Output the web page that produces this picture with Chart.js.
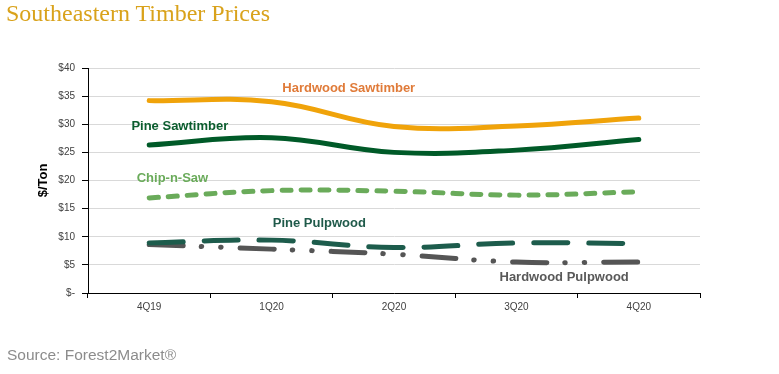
<!DOCTYPE html>
<html>
<head>
<meta charset="utf-8">
<script src="https://cdn.jsdelivr.net/npm/chart.js@4.4.0/dist/chart.umd.min.js"></script>
<style>
  body { margin: 0; background: #fff; }
  #wrap { position: relative; width: 779px; height: 374px; }
  #title { position: absolute; left: 6px; top: 0px; font-family: "Liberation Serif", serif; font-size: 24px; color: #D9A21B; }
  #source { position: absolute; left: 7px; top: 346px; font-family: "Liberation Sans", Arial, sans-serif; font-size: 15.5px; color: #8c8c8c; }
  canvas { position: absolute; left: 0; top: 0; }
</style>
</head>
<body>
<div id="wrap">
  <canvas id="chart" width="779" height="374"></canvas>
  <div id="title">Southeastern Timber Prices</div>
  <div id="source">Source: Forest2Market®</div>
</div>
<script>
// quarters on the x axis
const quarters = ['4Q19', '1Q20', '2Q20', '3Q20', '4Q20'];

// $/ton
const hardwoodSawtimber = [34.2, 34.0, 29.6, 29.7, 31.1];
const pineSawtimber = [26.3, 27.6, 25.0, 25.4, 27.3];
const chipNSaw = [16.9, 18.2, 18.1, 17.4, 18.0];
const pinePulpwood = [8.9, 9.4, 8.1, 8.9, 8.8];
const hardwoodPulpwood = [8.6, 7.8, 6.9, 5.5, 5.5];

// in-chart series labels: [text, x (category index), y ($), colour]
const seriesLabels = [
  ['Hardwood Sawtimber', 1.63, 36.4, '#E07B39'],
  ['Pine Sawtimber', 0.25, 29.7, '#0B5D2E'],
  ['Chip-n-Saw', 0.19, 20.3, '#6AAB5A'],
  ['Pine Pulpwood', 1.39, 12.3, '#1F5A4A'],
  ['Hardwood Pulpwood', 3.39, 2.8, '#595959']
];

const labelPlugin = {
  id: 'seriesLabels',
  afterDatasetsDraw(chart) {
    const ctx = chart.ctx;
    const xs = chart.scales.x, ys = chart.scales.y;
    ctx.save();
    ctx.font = 'bold 13px "Liberation Sans", Arial, sans-serif';
    ctx.textAlign = 'center';
    ctx.textBaseline = 'middle';
    seriesLabels.forEach(l => {
      ctx.fillStyle = l[3];
      ctx.fillText(l[0], xs.getPixelForValue(l[1]), ys.getPixelForValue(l[2]));
    });
    ctx.restore();
  }
};

const tickFont = { family: '"Liberation Sans", Arial, sans-serif', size: 10 };

new Chart(document.getElementById('chart'), {
  type: 'line',
  data: {
    labels: quarters,
    datasets: [
      { label: 'Hardwood Sawtimber', data: hardwoodSawtimber, borderColor: '#F0A30A', borderWidth: 5 },
      { label: 'Pine Sawtimber', data: pineSawtimber, borderColor: '#005A28', borderWidth: 5 },
      { label: 'Chip-n-Saw', data: chipNSaw, borderColor: '#6AAB5A', borderWidth: 5, borderDash: [9, 10] },
      { label: 'Pine Pulpwood', data: pinePulpwood, borderColor: '#1D5C4C', borderWidth: 5, borderDash: [34, 21] },
      { label: 'Hardwood Pulpwood', data: hardwoodPulpwood, borderColor: '#555555', borderWidth: 5, borderDash: [34, 18, 0.5, 19, 0.5, 19] }
    ].map(d => Object.assign(d, { tension: 0.4, pointRadius: 0, fill: false, borderCapStyle: 'round', borderJoinStyle: 'round' }))
  },
  options: {
    responsive: false,
    animation: false,
    layout: { padding: { top: 68, right: 79, left: 0, bottom: 0 } },
    plugins: { legend: { display: false }, tooltip: { enabled: false } },
    scales: {
      x: {
        offset: true,
        grid: { offset: true, drawOnChartArea: false, drawTicks: true, tickLength: 5, tickColor: '#000' },
        border: { color: '#000', width: 1 },
        ticks: { font: tickFont, color: '#404040', padding: 3 },
        afterFit: s => { s.height = 81; }
      },
      y: {
        min: 0,
        max: 40,
        grid: { color: '#d9d9d9', tickLength: 6, tickColor: '#000' },
        border: { color: '#000', width: 1 },
        ticks: {
          stepSize: 5,
          font: tickFont,
          color: '#404040',
          padding: 7,
          callback: v => v === 0 ? '$-' : '$' + v
        },
        title: {
          display: true,
          text: '$/Ton',
          color: '#000',
          font: { family: '"Liberation Sans", Arial, sans-serif', size: 13, weight: 'bold' },
          padding: { top: 36, bottom: 0 }
        },
        afterFit: s => { s.width = 88; }
      }
    }
  },
  plugins: [labelPlugin]
});
</script>
</body>
</html>
